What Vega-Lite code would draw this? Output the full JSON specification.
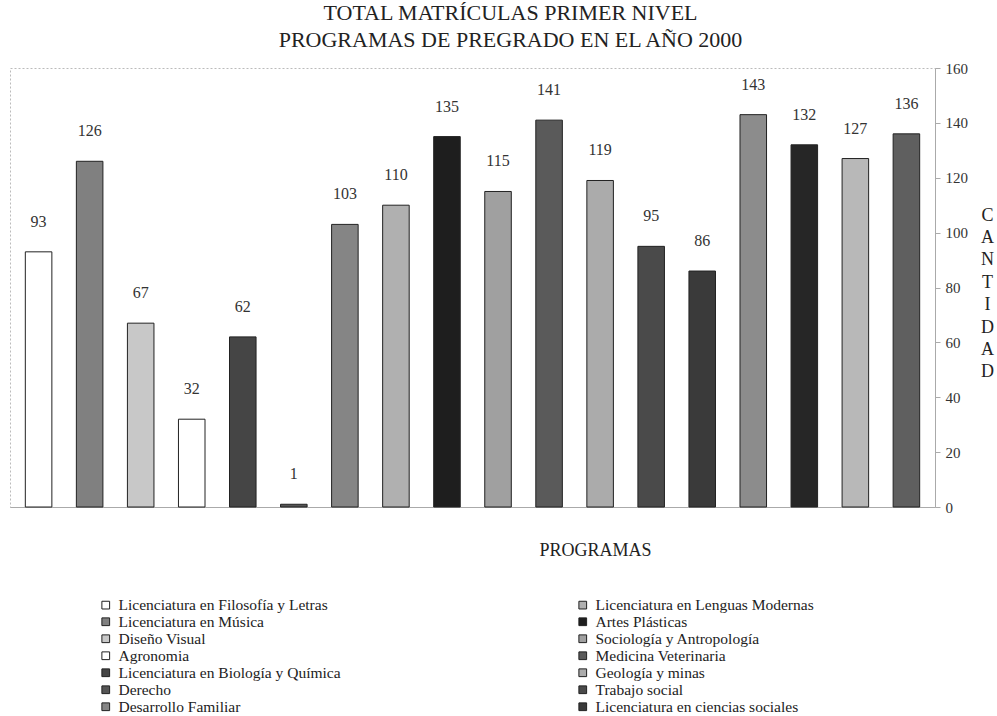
{
  "$schema": "https://vega.github.io/schema/vega-lite/v6.json",
  "width": 925,
  "height": 439,
  "autosize": "none",
  "padding": {"left": 10, "top": 68, "right": 62, "bottom": 209},
  "background": "white",
  "config": {
    "font": "Liberation Serif",
    "view": {"stroke": "#bbbbbb", "strokeDash": [2, 2], "strokeWidth": 1}
  },
  "title": {
    "text": ["TOTAL MATRÍCULAS PRIMER NIVEL", "PROGRAMAS DE PREGRADO EN EL AÑO 2000"],
    "font": "Liberation Serif",
    "fontSize": 22,
    "fontWeight": "normal",
    "color": "#222",
    "lineHeight": 27,
    "anchor": "middle",
    "dx": 38,
    "offset": 9
  },
  "data": {
    "values": [
      {"n": 1, "programa": "Licenciatura en Filosofía y Letras", "cantidad": 93},
      {"n": 2, "programa": "Licenciatura en Música", "cantidad": 126},
      {"n": 3, "programa": "Diseño Visual", "cantidad": 67},
      {"n": 4, "programa": "Agronomia", "cantidad": 32},
      {"n": 5, "programa": "Licenciatura en Biología y Química", "cantidad": 62},
      {"n": 6, "programa": "Derecho", "cantidad": 1},
      {"n": 7, "programa": "Desarrollo Familiar", "cantidad": 103},
      {"n": 8, "programa": "Licenciatura en Lenguas Modernas", "cantidad": 110},
      {"n": 9, "programa": "Artes Plásticas", "cantidad": 135},
      {"n": 10, "programa": "Sociología y Antropología", "cantidad": 115},
      {"n": 11, "programa": "Medicina Veterinaria", "cantidad": 141},
      {"n": 12, "programa": "Geología y minas", "cantidad": 119},
      {"n": 13, "programa": "Trabajo social", "cantidad": 95},
      {"n": 14, "programa": "Licenciatura en ciencias sociales", "cantidad": 86},
      {"n": 15, "programa": "Programa 15", "cantidad": 143},
      {"n": 16, "programa": "Programa 16", "cantidad": 132},
      {"n": 17, "programa": "Programa 17", "cantidad": 127},
      {"n": 18, "programa": "Programa 18", "cantidad": 136}
    ]
  },
  "encoding": {
    "x": {
      "field": "n",
      "type": "ordinal",
      "sort": null,
      "scale": {"paddingInner": 0.48, "paddingOuter": 0.3},
      "axis": {
        "labels": false,
        "ticks": false,
        "domain": true,
        "domainColor": "#aaaaaa",
        "title": "PROGRAMAS",
        "titleFont": "Liberation Serif",
        "titleFontSize": 18,
        "titleFontWeight": "normal",
        "titleColor": "#222",
        "titleX": 585,
        "titleY": 43,
        "titleBaseline": "middle",
        "titleAlign": "center"
      }
    },
    "y": {
      "field": "cantidad",
      "type": "quantitative",
      "scale": {"domain": [0, 160], "nice": false},
      "axis": {
        "orient": "right",
        "values": [0, 20, 40, 60, 80, 100, 120, 140, 160],
        "grid": false,
        "domainColor": "#aaaaaa",
        "tickColor": "#aaaaaa",
        "tickSize": 5,
        "labelFont": "Liberation Serif",
        "labelFontSize": 15,
        "labelColor": "#333",
        "labelPadding": 5,
        "title": ["C", "A", "N", "T", "I", "D", "A", "D"],
        "titleFont": "Liberation Serif",
        "titleFontSize": 18,
        "titleFontWeight": "normal",
        "titleColor": "#222",
        "titleAngle": 0,
        "titleAlign": "center",
        "titleBaseline": "top",
        "titleLineHeight": 22.4,
        "titleX": 52,
        "titleY": 138
      }
    }
  },
  "layer": [
    {
      "mark": {"type": "bar", "stroke": "#222", "strokeWidth": 1},
      "encoding": {
        "color": {
          "field": "programa",
          "type": "nominal",
          "scale": {
            "domain": [
              "Licenciatura en Filosofía y Letras", "Licenciatura en Música", "Diseño Visual", "Agronomia",
              "Licenciatura en Biología y Química", "Derecho", "Desarrollo Familiar",
              "Licenciatura en Lenguas Modernas", "Artes Plásticas", "Sociología y Antropología",
              "Medicina Veterinaria", "Geología y minas", "Trabajo social", "Licenciatura en ciencias sociales",
              "Programa 15", "Programa 16", "Programa 17", "Programa 18"
            ],
            "range": [
              "#ffffff", "#808080", "#c8c8c8", "#ffffff", "#454545", "#555555", "#858585",
              "#b0b0b0", "#1e1e1e", "#a0a0a0", "#5a5a5a", "#ababab", "#4a4a4a", "#3a3a3a",
              "#8c8c8c", "#262626", "#b8b8b8", "#5f5f5f"
            ]
          },
          "legend": {
            "orient": "none",
            "legendX": 88,
            "legendY": 529,
            "columns": 2,
            "direction": "horizontal",
            "gridAlign": "all",
            "columnPadding": 234,
            "rowPadding": 0,
            "values": [
              "Licenciatura en Filosofía y Letras", "Licenciatura en Lenguas Modernas",
              "Licenciatura en Música", "Artes Plásticas",
              "Diseño Visual", "Sociología y Antropología",
              "Agronomia", "Medicina Veterinaria",
              "Licenciatura en Biología y Química", "Geología y minas",
              "Derecho", "Trabajo social",
              "Desarrollo Familiar", "Licenciatura en ciencias sociales"
            ],
            "title": null,
            "symbolType": "square",
            "symbolSize": 60,
            "symbolStrokeColor": "#222",
            "symbolStrokeWidth": 1,
            "labelFont": "Liberation Serif",
            "labelFontSize": 15.5,
            "labelColor": "#222",
            "labelLimit": 400,
            "labelOffset": 5
          }
        }
      }
    },
    {
      "mark": {"type": "text", "dy": -22, "font": "Liberation Serif", "fontSize": 16, "color": "#333", "baseline": "bottom"},
      "encoding": {
        "text": {"field": "cantidad", "type": "quantitative"}
      }
    }
  ]
}
